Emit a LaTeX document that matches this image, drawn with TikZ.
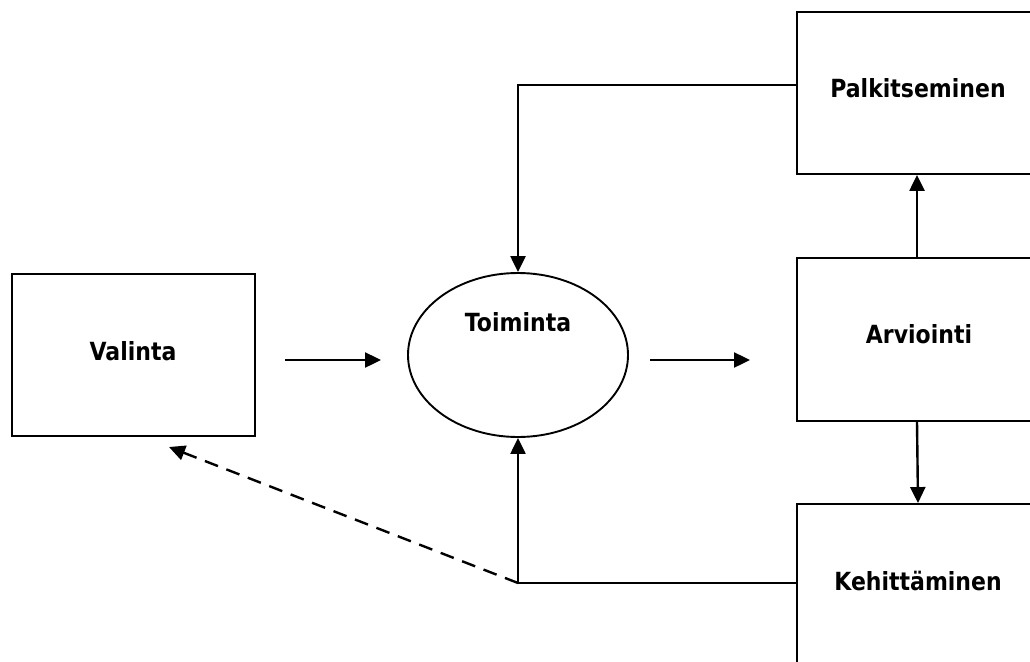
\documentclass[tikz,border=0pt]{standalone}
\usepackage{fontspec}
\setmainfont[FakeStretch=0.88]{DejaVu Sans}
\usetikzlibrary{shapes.geometric,arrows.meta}
\begin{document}
\begin{tikzpicture}[x=1pt,y=-1pt,
  box/.style={draw, line width=1.9pt, rectangle, inner sep=0pt},
  oval/.style={draw, line width=1.9pt, ellipse, inner sep=0pt},
  lbl/.style={font=\bfseries\fontsize{25}{29}\selectfont, inner sep=0pt},
  conn/.style={line width=2.4pt},
  arr/.style={conn, -{Triangle[length=16pt,width=15pt]}},
  darr/.style={arr, dash pattern=on 14pt off 9pt}]
\useasboundingbox (0,0) rectangle (1030,661);
\clip (0,0) rectangle (1030,661);
% boxes
\node[box, minimum width=243pt, minimum height=162pt] (valinta) at (133.5,355) {};
\node[lbl] at (133,351) {Valinta};
\node[oval, minimum width=220pt, minimum height=164pt] (toiminta) at (518,355) {};
\node[lbl] at (518,322) {Toiminta};
\node[box, minimum width=243pt, minimum height=163pt] (arviointi) at (918.5,339.5) {};
\node[lbl] at (919,334) {Arviointi};
\node[box, minimum width=243pt, minimum height=162pt] (palk) at (918.5,93) {};
\node[lbl] at (918,88) {Palkitseminen};
\node[box, minimum width=243pt, minimum height=166pt] (keh) at (918.5,587) {};
\node[lbl] at (918,581) {Kehittäminen};
% free ends
\coordinate (a1) at (285,360);
\coordinate (a2) at (381,360);
\coordinate (b1) at (650,360);
\coordinate (b2) at (750,360);
\coordinate (ptop) at (797,85);
\coordinate (ktop) at (797,583);
\coordinate (jtop) at (518,85);
\coordinate (jbot) at (518,583);
\coordinate (dend) at (169,447);
% connectors
\draw[arr] (a1) -- (a2);
\draw[arr] (b1) -- (b2);
\draw[arr] (arviointi.north -| 917,0) -- (palk.south -| 917,0);
\draw[arr] (arviointi.south -| 917,0) -- (keh.north -| 918,0);
\draw[arr, line join=miter] (ptop) -- (jtop) -- (toiminta.north);
\draw[arr, line join=miter] (ktop) -- (jbot) -- (toiminta.south);
\draw[darr] (jbot) -- (dend);
\end{tikzpicture}
\end{document}
